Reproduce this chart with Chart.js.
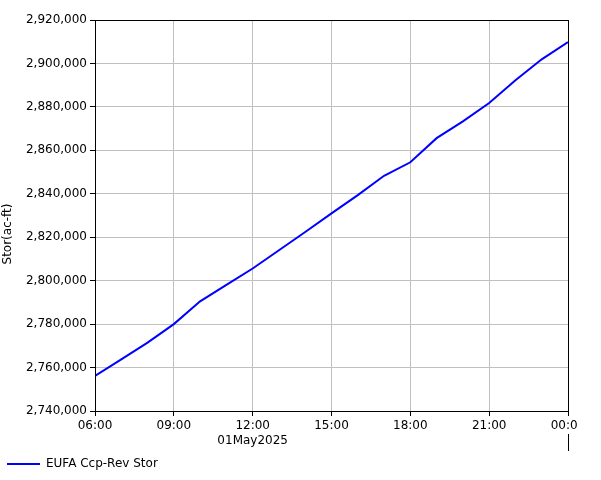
<!DOCTYPE html>
<html>
<head>
<meta charset="utf-8">
<script src="https://cdn.jsdelivr.net/npm/chart.js@4.4.0/dist/chart.umd.min.js"></script>
<style>
    html, body { margin: 0; padding: 0; background: #fff; }
    #wrap { width: 578px; height: 480px; position: relative; }
</style>
</head>
<body>
<div id="wrap"><canvas id="chart"></canvas></div>
<script>
// Horas desde 06:00 del 01May2025 (24 = 00:00 del día siguiente)
const hours = [6, 7, 8, 9, 10, 11, 12, 13, 14, 15, 16, 17, 18, 19, 20, 21, 22, 23, 24];
const storage = [2756200, 2763800, 2771500, 2780000, 2790500, 2798100, 2805600, 2814000,
    2822400, 2831000, 2839400, 2848300, 2854500, 2865600, 2873300, 2881800, 2892300,
    2901900, 2909800];
const seriesLabel = 'EUFA Ccp-Rev Stor';
const yTitle = 'Stor(ac-ft)';
const dateLabel = '01May2025';
const xTickHours = [6, 9, 12, 15, 18, 21, 24];

const FONT = { family: 'DejaVu Sans', size: 12, lineHeight: 1.25 };

function hourLabel(h) {
    const hh = String(h % 24).padStart(2, '0');
    return hh + ':00';
}

// Marco del área, título del eje Y y marca de cambio de día
const framePlugin = {
    id: 'frame',
    afterDraw(chart) {
        const { ctx, chartArea } = chart;
        ctx.save();
        ctx.strokeStyle = '#000';
        ctx.lineWidth = 1;
        ctx.strokeRect(Math.round(chartArea.left) + 0.5, Math.round(chartArea.top) + 0.5,
            Math.round(chartArea.right - chartArea.left), Math.round(chartArea.bottom - chartArea.top));
        const dx = Math.round(chart.scales.x.getPixelForValue(24)) + 0.5;
        ctx.beginPath();
        ctx.moveTo(dx, chartArea.bottom + 23);
        ctx.lineTo(dx, chartArea.bottom + 40);
        ctx.stroke();

        // título del eje, centrado sobre la altura del lienzo
        ctx.translate(8, chart.height / 2 - 6);
        ctx.rotate(-Math.PI / 2);
        ctx.fillStyle = '#000';
        ctx.font = '12px "DejaVu Sans"';
        ctx.textAlign = 'center';
        ctx.textBaseline = 'middle';
        ctx.fillText(yTitle, 0, 0);
        ctx.restore();
    }
};

const ctx = document.getElementById('chart').getContext('2d');
new Chart(ctx, {
    type: 'line',
    data: {
        datasets: [{
            label: seriesLabel,
            data: hours.map((h, i) => ({ x: h, y: storage[i] })),
            borderColor: '#0000ff',
            backgroundColor: '#0000ff',
            borderWidth: 2,
            pointRadius: 0,
            tension: 0,
            pointStyle: 'line'
        }]
    },
    options: {
        responsive: true,
        maintainAspectRatio: false,
        animation: false,
        layout: { padding: { top: 20, right: 10, left: 0, bottom: 0 } },
        plugins: {
            legend: {
                position: 'bottom',
                align: 'start',
                labels: {
                    usePointStyle: true,
                    pointStyleWidth: 33,
                    padding: 7,
                    color: '#000',
                    font: FONT
                }
            },
            tooltip: { enabled: false }
        },
        scales: {
            x: {
                type: 'linear',
                min: 6,
                max: 24,
                afterBuildTicks(scale) {
                    scale.ticks = xTickHours.map(v => ({ value: v }));
                },
                afterFit(scale) {
                    scale.height = 40;
                    scale.paddingLeft = 0;
                    scale.paddingRight = 0;
                },
                ticks: {
                    maxRotation: 0,
                    autoSkip: false,
                    padding: 2,
                    color: '#000',
                    font: FONT,
                    callback(value) {
                        if (value === 12) return [hourLabel(value), dateLabel];
                        return hourLabel(value);
                    }
                },
                grid: { color: '#c0c0c0', tickColor: '#000', tickLength: 5 },
                border: { color: '#000' }
            },
            y: {
                min: 2740000,
                max: 2920000,
                afterFit(scale) {
                    scale.width = 95;
                },
                ticks: {
                    stepSize: 20000,
                    padding: 3,
                    color: '#000',
                    font: FONT,
                    callback(value) {
                        return value.toLocaleString('en-US');
                    }
                },
                grid: { color: '#c0c0c0', tickColor: '#000', tickLength: 5 },
                border: { color: '#000' }
            }
        }
    },
    plugins: [framePlugin]
});
</script>
</body>
</html>
